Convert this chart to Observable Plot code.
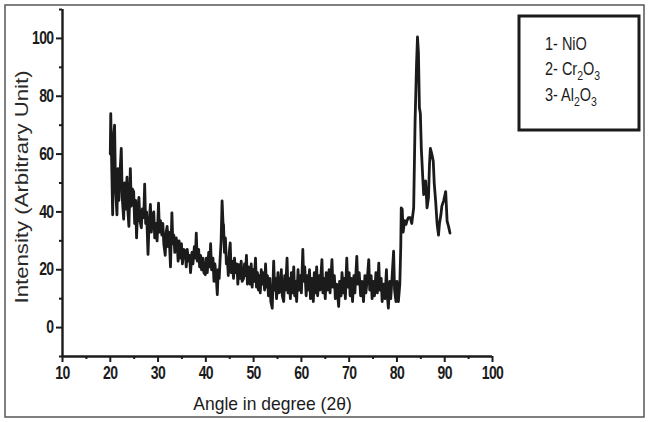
<!DOCTYPE html>
<html>
<head>
<meta charset="utf-8">
<script src="https://cdn.jsdelivr.net/npm/d3@7"></script>
<script src="https://cdn.jsdelivr.net/npm/@observablehq/plot@0.6"></script>
<style>
  html, body { margin: 0; padding: 0; background: #fff; }
  #chart { width: 649px; height: 422px; }
</style>
</head>
<body>
<div id="chart"></div>
<script>
// ---- data ----
const angle = [
  20.0,20.1,20.3,20.5,20.7,20.9,21.1,21.4,21.6,21.8,22.0,22.3,22.5,22.8,23.0,23.2,23.5,23.7,23.9,24.2,
  24.4,24.6,24.9,25.1,25.3,25.5,25.7,26.0,26.2,26.5,26.7,27.0,27.2,27.4,27.6,27.9,28.1,28.4,28.6,28.8,
  29.1,29.3,29.5,29.8,30.1,30.3,30.5,30.8,31.0,31.2,31.5,31.7,31.9,32.1,32.3,32.6,32.9,33.1,33.3,33.5,
  33.8,34.0,34.2,34.4,34.7,34.9,35.1,35.4,35.7,35.9,36.1,36.4,36.6,36.8,37.1,37.3,37.6,37.8,38.0,38.2,
  38.5,38.7,38.9,39.1,39.4,39.6,39.9,40.1,40.3,40.6,40.8,41.0,41.2,41.5,41.7,41.9,42.2,42.4,42.6,42.8,
  43.0,43.2,43.4,43.6,43.7,43.9,44.1,44.3,44.5,44.7,44.9,45.1,45.3,45.5,45.8,46.0,46.2,46.5,46.7,46.9,
  47.1,47.4,47.6,47.9,48.1,48.3,48.5,48.7,48.9,49.1,49.3,49.5,49.7,49.9,50.1,50.4,50.6,50.8,51.0,51.2,
  51.4,51.6,51.8,52.0,52.3,52.5,52.7,52.9,53.1,53.4,53.6,53.9,54.2,54.4,54.6,54.8,55.1,55.3,55.6,55.8,
  56.0,56.3,56.5,56.7,57.0,57.2,57.4,57.7,57.9,58.1,58.4,58.6,58.8,59.0,59.3,59.5,59.8,60.0,60.3,60.5,
  60.7,61.0,61.2,61.4,61.7,61.9,62.2,62.5,62.7,62.9,63.2,63.4,63.7,63.9,64.3,64.5,64.7,65.0,65.2,65.5,
  65.8,66.0,66.4,66.6,66.9,67.1,67.4,67.8,68.0,68.3,68.5,68.8,69.0,69.2,69.5,69.7,70.0,70.2,70.5,70.7,
  71.0,71.2,71.6,71.8,72.1,72.4,72.7,73.0,73.3,73.5,73.8,74.1,74.3,74.6,74.8,75.1,75.3,75.6,75.9,76.2,
  76.4,76.7,76.9,77.2,77.5,77.8,78.0,78.2,78.5,78.7,79.0,79.3,79.5,79.8,80.0,80.3,80.6,80.8,80.9,81.1,
  81.3,81.6,81.9,82.1,82.4,82.8,83.1,83.5,83.8,84.1,84.3,84.5,84.7,84.9,85.1,85.4,85.6,86.0,86.3,86.6,
  86.8,87.0,87.3,87.6,87.8,88.1,88.4,88.7,88.9,89.2,89.4,89.8,90.2,90.5,90.8,91.1,91.5
];
const intensity = [
  60,74,56,39,66,70,48,39,55,44,52,62,45,37.5,50,41,52,40,35,55,
  42,48,47,36,44,31,40,45,37,34.5,41,38,49.6,36,40,25.3,35,42.6,33,38,
  40,31,36,30,43,33,37,32,36,29,25,33,35,28,33,21,39.7,29,32,26,
  31,28.8,23,30,24,29,22,27,26.4,21,27,23,25,19,26,22,28,24,32.7,23,
  27,21,25,20,24,19,18.3,24,19,26,21,29,20,24,16,22,17,11.4,20,17,
  24,30,43.8,36,35.6,26,31,22,24,18,26,29.3,19,23,17,24,19,22,15,21.8,
  17,23,16,17,22,18,25,15,21,17,15,22,14,20,16,24,14,19,13,18,
  12,20,15,19,13,22,14,18,11,17,9,6.7,23,13,17,10,19,12,12.5,20,
  11,9,18,13,24,12,17,10,19,12,21,11,16,9,20,13,18,12,27,16,
  21,11,18,13,20,10,17,9,19,12,21,11,18,13,23.5,12,17,10,19,13,
  20,12,23.5,14,18,10,15,7.3,16,11,19,12,17,10,24,14,19,11,17,9,
  18,12,24.6,15,19,11,16,9,18,12,17,23.5,13,18,10,16,11,19,12,22.3,
  13,17,9,15,10,20,11,6.7,16,10,18,26.4,13,9,16,9,15,28,41.4,41,
  33,37,35.7,37,38,38,36,41.4,71.5,91,100.5,95,76,74,62,52,46,50.7,41.4,
  45,56,62,60,57.6,50,43.7,36,32,36,39,42,44,47,36.8,35,32.7
];
const xMajor = [10,20,30,40,50,60,70,80,90,100];
const xMinor = [15,25,35,45,55,65,75,85,95];
const yMajor = [0,20,40,60,80,100];
const yMinor = [-10,10,30,50,70,90,110];
const xTitle = "Angle in degree (2θ)";
const yTitle = "Intensity (Arbitrary Unit)";
const legendParts = [
  [["1- NiO", false]],
  [["2- Cr", false], ["2", true], ["O", false], ["3", true]],
  [["3- Al", false], ["2", true], ["O", false], ["3", true]]
];

const data = angle.map((a, i) => ({angle: a, intensity: intensity[i]}));
const ink = "#1b1b1b";

const chart = Plot.plot({
  width: 649,
  height: 422,
  marginLeft: 62,
  marginRight: 157,
  marginTop: 9,
  marginBottom: 66,
  x: {domain: [10, 100], axis: null},
  y: {domain: [-10, 110], axis: null},
  style: {background: "#fff", color: ink},
  marks: [
    Plot.ruleY([-10], {stroke: ink, strokeWidth: 2.6}),
    Plot.ruleX([10], {stroke: ink, strokeWidth: 2.4}),
    Plot.axisX({ticks: xMajor, tickSize: 6, tickPadding: 4, tickFormat: d => String(d),
      fontSize: 14, fontWeight: "bold", fontFamily: "Liberation Sans", stroke: ink, strokeWidth: 2,
      fill: ink, label: null, className: "xt"}),
    Plot.axisX({ticks: xMinor, tickSize: 3, tickFormat: () => "", stroke: ink, strokeWidth: 2, label: null}),
    Plot.axisY({ticks: yMajor, tickSize: 6, tickPadding: 3, tickFormat: d => String(d),
      fontSize: 14, fontWeight: "bold", fontFamily: "Liberation Sans", stroke: ink, strokeWidth: 2,
      fill: ink, label: null, className: "yt"}),
    Plot.axisY({ticks: yMinor, tickSize: 3, tickFormat: () => "", stroke: ink, strokeWidth: 2, label: null}),
    Plot.line(data, {x: "angle", y: "intensity", stroke: ink, strokeWidth: 2.8,
      strokeLinejoin: "round", strokeLinecap: "round"}),
    Plot.text([xTitle], {frameAnchor: "bottom", dx: -5, dy: 53, fontSize: 17.5, fontFamily: "Liberation Sans",
      fill: ink, className: "xtitle"}),
    Plot.text([yTitle], {frameAnchor: "left", textAnchor: "middle", dx: -40, dy: 4, rotate: -90,
      fontSize: 18.5, fontFamily: "Liberation Sans", fill: "#2a2a2a", className: "ytitle"})
  ]
});

document.getElementById("chart").appendChild(chart);

// The reference image is vertically stretched: stretch each text about its anchor
// by wrapping it in a group (its own attributes stay untouched).
function stretch(selector, sy) {
  chart.querySelectorAll(selector).forEach(t => {
    const x = parseFloat(t.getAttribute("x")) || 0;
    const y = parseFloat(t.getAttribute("y")) || 0;
    let ax = x, ay = y;
    const list = t.transform && t.transform.baseVal;
    if (list && list.numberOfItems > 0) {
      const m = list.consolidate().matrix;
      ax = m.a * x + m.c * y + m.e;
      ay = m.b * x + m.d * y + m.f;
    }
    const g = document.createElementNS("http://www.w3.org/2000/svg", "g");
    g.setAttribute("transform", `translate(${ax},${ay}) scale(1,${sy}) translate(${-ax},${-ay})`);
    t.parentNode.insertBefore(g, t);
    g.appendChild(t);
  });
}
chart.querySelectorAll(".xt text, .yt text").forEach(t => t.setAttribute("letter-spacing", "-0.6"));
stretch(".xt text", 1.3);
stretch(".yt text", 1.3);
stretch(".xtitle text", 1.1);
stretch(".ytitle text", 1.2);

// legend box and outer frame
const svg = d3.select(chart);
const W = 649, H = 422;
svg.append("rect").attr("x", 5).attr("y", 5).attr("width", W - 10).attr("height", H - 10)
  .attr("fill", "none").attr("stroke", "#555").attr("stroke-width", 1.5);
const lg = svg.append("g");
lg.append("rect").attr("x", 519).attr("y", 16).attr("width", 120).attr("height", 114)
  .attr("fill", "#fff").attr("stroke", ink).attr("stroke-width", 3);
legendParts.forEach((parts, i) => {
  const t = lg.append("text")
    .attr("transform", `translate(545,${49.5 + i * 25.7}) scale(1,1.22)`)
    .attr("text-anchor", "start")
    .attr("font-family", "Liberation Sans").attr("font-size", 14.5).attr("fill", ink);
  let prevSub = false;
  parts.forEach(([s, sub]) => {
    const ts = t.append("tspan").text(s);
    if (sub) ts.attr("font-size", 10.5).attr("dy", 4);
    else if (prevSub) ts.attr("dy", -4);
    prevSub = sub;
  });
});
</script>
</body>
</html>
